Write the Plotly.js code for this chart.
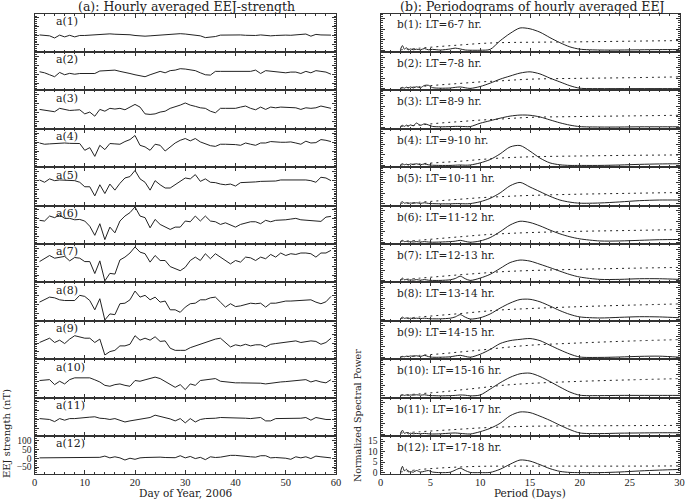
<!DOCTYPE html>
<html><head><meta charset="utf-8">
<script src="https://cdn.plot.ly/plotly-3.0.1.min.js"></script>
<style>html,body{margin:0;padding:0;background:#fff}#chart{width:685px;height:499px}</style>
</head><body><div id="chart"></div>
<script>
// ---------- data ----------
const days = [1,2,3,4,5,6,7,8,9,10,11,12,13,14,15,16,17,18,19,20,21,22,23,24,25,26,27,28,29,30,31,32,33,34,35,36,37,38,39,40,41,42,43,44,45,46,47,48,49,50,51,52,53,54,55,56,57,58,59];

const a1 = [5,4,0,-12,4,-6,3,-6,2,2, 4,5,7,10,11,9,8,10,6,2, -2,-2,0,2,6,6,8,10,12,10, 8,5,0,-10,-8,-4,4,5,4,5, 5,3,2,2,5,2,0,2,4,4, 3,4,6,10,-2,8,5,5,4];
const a2 = [14,8,-3,-14,10,-3,5,0,4,4, 4,4,18,20,21,23,16,12,4,-3, -9,-14,-3,8,16,8,20,23,31,29, 25,20,8,-3,-5,16,16,16,16,16, 20,20,16,23,4,20,16,14,10,8, 12,12,4,16,8,20,16,12,0];
const a3 = [18,14,8,5,24,16,12,14,16,-7, 3,-20,18,8,24,20,24,16,31,46, 31,-7,-10,-7,3,8,24,31,42,54, 42,35,27,24,8,-1,24,24,24,24, 31,37,24,16,31,18,31,27,31,31, 31,27,18,27,24,27,37,31,24];
const a4 = [45,38,40,42,43,45,43,43,42,4, 19,-30,32,8,42,40,38,53,64,87, 32,23,4,38,32,0,23,45,60,70, 57,70,51,42,30,26,38,38,38,36, 32,45,38,32,45,45,53,49,49,49, 51,45,38,55,45,47,64,60,53];
const a5 = [53,40,59,49,53,53,49,49,40,15, 15,-36,26,-23,30,-4,34,64,72,106, 59,40,-4,49,26,8,8,26,49,64, 59,83,45,59,40,38,30,26,30,19, 38,38,40,42,45,45,49,47,53,53, 57,57,55,53,49,40,68,64,49];
const a6 = [42,38,66,57,72,53,53,45,47,38, 9,-42,23,-66,4,-28,38,66,85,117, 66,57,0,47,19,4,-9,4,4,38, 34,66,38,66,38,34,19,28,15,4, 19,28,34,34,23,42,34,42,42,45, 49,53,45,43,38,38,36,60,64];
const a7 = [26,45,60,45,50,55,30,49,45,26, 26,-41,30,-82,-40,-44,35,51,74,108, 79,70,23,60,32,32,-2,-15,-25,-6, 32,51,32,70,42,70,51,36,13,32, 23,51,47,32,51,42,66,51,74,60, 70,66,74,74,70,51,74,74,89];
const a8 = [14,27,42,38,27,23,23,23,52,46, 23,-29,33,-86,-52,-56,5,8,27,76, 42,52,27,42,14,20,-29,-29,-43,-14, 5,8,27,27,38,42,14,-14,5,-11, -7,1,8,5,8,-14,8,8,16,20, 20,22,23,27,27,14,5,16,46];
const a9 = [3,16,27,3,16,-3,22,41,35,27, 27,3,22,-67,-48,-41,-16,-16,-7,41, 16,27,16,35,9,12,-29,-41,-41,-41, -26,-16,-7,3,12,22,27,3,-22,-10, -16,-7,-16,-10,-10,-22,-7,-3,1,3, 9,12,3,9,12,9,-7,3,27];
const a10 = [5,7,10,-18,1,-14,10,20,20,20, 20,9,-3,-22,-27,-18,-14,-22,-27,5, 1,9,16,24,16,1,-18,-33,-18,-46, -14,-22,5,10,12,16,1,-3,-7,-8, -8,-8,-8,-10,-10,-14,-10,-3,-3,-1, 1,5,9,10,-3,5,-3,-8,10];
const a11 = [7,5,2,-10,7,-2,7,7,11,13, 15,17,9,7,2,7,-2,-12,-6,-2, 2,7,13,26,20,13,5,-6,7,-17, 7,-12,2,7,7,9,13,13,13,13, 11,9,7,9,13,-6,-6,7,7,7, 7,7,9,13,-2,13,7,2,2];
const a12 = [2,2,1,1,1,1,2,3,5,4, 4,4,5,12,2,8,2,-10,0,-6, 2,4,5,8,6,4,2,3,14,2, 10,-2,5,-8,8,4,6,12,16,16, 12,10,8,6,14,14,2,4,4,0, -6,8,2,8,-2,12,8,4,2];

const periods = [2.0,2.2,2.4,2.6,2.8,3.0,3.3,3.6,4.0,4.4,4.8,5.2,6,7,7.5,8,8.5,9,10,11,12,13,14,15,16,17,18,19,20,22,24,26,28,30];
const b1 = [0.3,2.2,0.5,1.2,0.2,0.6,0.2,0.5,0.2,0.8,0.2,0.4,0.1,0.6,1.0,0.6,0.1,0.0,0.0,0.4,4.5,8.0,10.6,10.2,8.6,6.0,3.6,1.6,0.5,0.1,0.1,0.2,0.3,0.3];
const b2 = [0.2,0.6,0.2,0.7,0.3,0.8,0.3,0.9,0.4,1.5,1.6,0.5,0.2,0.3,0.6,0.8,0.4,0.1,1.0,2.6,4.5,6.0,7.4,8.0,7.0,5.0,3.2,1.4,0.2,0.0,0.0,0.0,0.0,0.0];
const b3 = [0.3,0.8,0.3,0.9,0.5,1.0,0.6,1.9,0.8,1.5,1.0,0.3,0.1,0.2,0.3,0.3,0.2,0.2,1.8,3.0,4.2,5.2,5.7,5.6,4.8,3.4,2.0,0.9,0.2,0.0,0.0,0.1,0.1,0.1];
const b4 = [0.2,0.8,0.3,0.6,0.2,0.7,0.4,0.8,0.3,0.7,0.3,0.1,0.0,0.0,0.1,0.2,0.1,0.2,1.2,2.8,5.5,8.8,9.5,6.8,3.5,1.2,0.3,0.0,0.0,0.0,0.2,0.5,0.7,0.8];
const b5 = [0.4,1.0,0.3,0.5,0.2,0.4,0.2,0.5,0.2,0.5,0.2,0.1,0.0,0.0,0.1,0.1,0.0,0.1,1.0,2.6,5.2,8.6,10.2,8.0,5.8,3.6,1.8,0.8,0.3,0.4,0.9,1.5,1.8,1.8];
const b6 = [0.3,0.9,0.3,0.4,0.2,0.3,0.1,0.3,0.1,0.3,0.1,0.0,0.1,0.3,0.5,0.9,0.4,0.0,0.6,2.2,5.0,8.2,10.0,9.4,7.8,5.8,4.0,2.6,1.6,0.6,0.6,0.9,1.2,1.3];
const b7 = [0.3,1.2,0.4,0.6,0.2,0.4,0.2,0.5,0.2,0.5,0.2,0.1,0.1,0.4,1.0,2.1,0.9,0.1,1.2,3.0,5.8,8.6,9.8,9.3,7.8,6.2,4.5,2.9,1.7,0.6,0.6,0.9,0.9,0.6];
const b8 = [0.2,0.9,0.3,0.5,0.2,0.4,0.2,0.4,0.2,0.4,0.2,0.1,0.1,0.4,1.0,2.1,0.9,0.0,0.6,2.4,5.2,7.6,9.3,9.4,8.2,6.2,4.0,2.2,1.0,0.5,0.8,1.1,1.0,0.6];
const b9 = [0.2,0.5,0.3,0.6,0.4,0.7,0.5,0.8,0.4,1.0,0.4,0.1,0.1,0.3,0.7,1.0,0.5,0.1,1.5,3.8,6.6,8.0,8.6,9.0,8.0,5.8,3.6,1.6,0.2,0.0,0.2,0.5,0.6,0.1];
const b10 = [0.2,0.5,0.2,0.4,0.2,0.4,0.3,0.5,0.3,0.5,0.2,0.1,0.0,0.1,0.2,0.4,0.3,0.0,0.4,3.2,6.2,8.8,10.5,10.8,9.2,6.8,4.2,1.8,0.3,0.1,0.2,0.2,0.2,0.2];
const b11 = [0.3,1.9,0.4,0.8,0.2,0.5,0.2,0.4,0.2,0.4,0.2,0.1,0.2,0.5,0.6,0.4,0.2,0.1,1.2,2.8,5.2,8.8,10.6,10.3,8.6,6.6,4.3,2.2,0.6,0.3,0.5,0.6,0.7,0.7];
const b12 = [0.3,3.0,0.8,1.6,0.4,0.5,0.2,1.0,0.3,0.6,1.0,0.3,0.0,0.2,1.2,2.1,1.0,0.1,0.0,0.1,1.6,4.0,6.0,5.5,3.8,1.9,0.6,0.1,0.0,0.0,0.3,0.8,1.2,1.5];

const sigPeriods = [2,4,6,8,10,12,15,20,25,30];
const s1 = [0.2,1.0,1.8,2.5,3.2,3.6,3.8,4.0,4.3,4.6];
const s2 = [0.2,1.0,1.8,2.5,3.2,3.7,4.5,4.9,5.2,5.6];
const s3 = [0.2,1.0,1.9,2.6,3.3,3.8,4.6,5.0,5.3,5.6];
const s4 = [0.2,0.8,1.4,2.0,2.8,3.5,4.1,4.5,4.8,5.0];
const s5 = [0.2,0.8,1.5,2.2,2.9,3.4,4.0,4.6,5.0,5.4];
const s6 = [0.4,1.0,1.8,2.6,3.4,4.0,4.6,5.2,5.6,6.0];
const s7 = [0.4,1.2,2.0,2.8,3.5,4.2,4.8,5.4,5.9,6.3];
const s8 = [0.2,1.0,1.8,2.6,3.5,4.3,5.0,5.9,6.6,7.2];
const s9 = [0.2,1.0,1.7,2.6,3.5,4.5,5.8,6.9,7.8,8.5];
const s10 = [0.2,1.0,1.8,2.8,3.8,4.9,5.9,6.9,7.6,8.2];
const s11 = [0.5,1.2,1.8,2.4,3.0,3.4,3.8,4.0,4.1,4.2];
const s12 = [0.3,1.5,2.2,2.7,3.0,3.1,3.1,3.1,3.1,3.2];

const labelsA = ["a(1)","a(2)","a(3)","a(4)","a(5)","a(6)","a(7)","a(8)","a(9)","a(10)","a(11)","a(12)"];
const labelsB = ["b(1): LT=6-7 hr.","b(2): LT=7-8 hr.","b(3): LT=8-9 hr.","b(4): LT=9-10 hr.","b(5): LT=10-11 hr.","b(6): LT=11-12 hr.","b(7): LT=12-13 hr.","b(8): LT=13-14 hr.","b(9): LT=14-15 hr.","b(10): LT=15-16 hr.","b(11): LT=16-17 hr.","b(12): LT=17-18 hr."];

// ---------- build ----------
const A = [a1,a2,a3,a4,a5,a6,a7,a8,a9,a10,a11,a12];
const B = [b1,b2,b3,b4,b5,b6,b7,b8,b9,b10,b11,b12];
const S = [s1,s2,s3,s4,s5,s6,s7,s8,s9,s10,s11,s12];

const W = 685, H = 499;
const LX0 = 34.5, LX1 = 336, RX0 = 380.5, RX1 = 679.5;
const TOP0 = 13.5, PH = 38.4;
const FONT = "Liberation Serif, DejaVu Serif, serif";
const WIDEFONT = "DejaVu Serif, Liberation Serif, serif";
const INK = "#222", FRAME = "#333";

function baseAxis(extra) {
  return Object.assign({
    showline: true, linecolor: FRAME, linewidth: 1, mirror: 'allticks',
    ticks: 'inside', ticklen: 4, tickwidth: 1, tickcolor: FRAME,
    showgrid: false, zeroline: false, fixedrange: true,
    ticklabeloverflow: 'allow', ticklabelstandoff: -2,
    tickfont: {family: FONT, size: 10.5, color: INK}
  }, extra);
}

const traces = [];
const layout = {
  width: W, height: H, margin: {l: 0, r: 0, t: 0, b: 0},
  paper_bgcolor: '#fff', plot_bgcolor: '#fff', showlegend: false,
  font: {family: FONT, color: INK},
  annotations: []
};

for (let i = 0; i < 12; i++) {
  const top = TOP0 + PH * i, bot = top + PH;
  const ydom = [1 - bot / H, 1 - top / H];
  const last = (i === 11);
  const kL = i + 1, kR = i + 13;
  const xL = 'x' + (kL === 1 ? '' : kL), yL = 'y' + (kL === 1 ? '' : kL);
  const xR = 'x' + kR, yR = 'y' + kR;
  traces.push({x: days, y: A[i], xaxis: xL, yaxis: yL, mode: 'lines',
    line: {color: INK, width: 1}, hoverinfo: 'skip'});
  traces.push({x: periods, y: B[i], xaxis: xR, yaxis: yR, mode: 'lines',
    line: {color: INK, width: 1, shape: 'spline', smoothing: 0.8}, hoverinfo: 'skip'});
  traces.push({x: sigPeriods, y: S[i], xaxis: xR, yaxis: yR, mode: 'lines',
    line: {color: INK, width: 1, dash: '2px,4px', shape: 'spline'}, hoverinfo: 'skip'});

  layout['xaxis' + (kL === 1 ? '' : kL)] = baseAxis({
    domain: [LX0 / W, LX1 / W], anchor: yL, range: [0, 60], dtick: 10, tick0: 0,
    showticklabels: last,
    minor: {ticks: 'inside', ticklen: 2, dtick: 2, tickcolor: FRAME, showgrid: false}
  });
  layout['yaxis' + (kL === 1 ? '' : kL)] = baseAxis({
    domain: ydom, anchor: xL, range: [-90, 125], dtick: 50, tick0: 0,
    showticklabels: last, ticklabelstandoff: 0,
    tickfont: {family: FONT, size: 9.5, color: INK},
    minor: {ticks: 'inside', ticklen: 2, dtick: 10, tickcolor: FRAME, showgrid: false}
  });
  layout['xaxis' + kR] = baseAxis({
    domain: [RX0 / W, RX1 / W], anchor: yR, range: [0, 30], dtick: 5, tick0: 0,
    showticklabels: last,
    minor: {ticks: 'inside', ticklen: 2, dtick: 1, tickcolor: FRAME, showgrid: false}
  });
  layout['yaxis' + kR] = baseAxis({
    domain: ydom, anchor: xR, range: [-0.8, 17.5], dtick: 5, tick0: 0,
    showticklabels: last, ticklabelstandoff: 0,
    tickfont: {family: FONT, size: 9.5, color: INK},
    minor: {ticks: 'inside', ticklen: 2, dtick: 1, tickcolor: FRAME, showgrid: false}
  });

  layout.annotations.push({text: labelsA[i], xref: 'paper', yref: 'paper',
    x: 54 / W, y: 1 - (top + 8) / H, xanchor: 'left', yanchor: 'middle',
    showarrow: false, font: {family: WIDEFONT, size: 11, color: INK}});
  layout.annotations.push({text: labelsB[i], xref: 'paper', yref: 'paper',
    x: 394.5 / W, y: 1 - (top + 11) / H, xanchor: 'left', yanchor: 'middle',
    showarrow: false, font: {family: WIDEFONT, size: 10.5, color: INK}});
}

const titles = [
  {text: "(a): Hourly averaged EEJ-strength", x: 186, y: 6.5, size: 12.5, angle: 0, f: WIDEFONT},
  {text: "(b): Periodograms of hourly averaged EEJ", x: 532, y: 6.5, size: 12.5, angle: 0, f: WIDEFONT},
  {text: "Day of Year, 2006", x: 186, y: 493, size: 10.5, angle: 0, f: WIDEFONT},
  {text: "Period (Days)", x: 530, y: 493, size: 10.5, angle: 0, f: WIDEFONT},
  {text: "EEJ strength (nT)", x: 6, y: 434, size: 10, angle: -90, f: WIDEFONT},
  {text: "Normalized Spectral Power", x: 357, y: 416, size: 9.5, angle: -90, f: WIDEFONT}
];
titles.forEach(t => layout.annotations.push({text: t.text, xref: 'paper', yref: 'paper',
  x: t.x / W, y: 1 - t.y / H, xanchor: 'center', yanchor: 'middle', textangle: t.angle,
  showarrow: false, font: {family: t.f, size: t.size, color: INK}}));

Plotly.newPlot('chart', traces, layout, {displayModeBar: false, staticPlot: true});
</script>
</body></html>
